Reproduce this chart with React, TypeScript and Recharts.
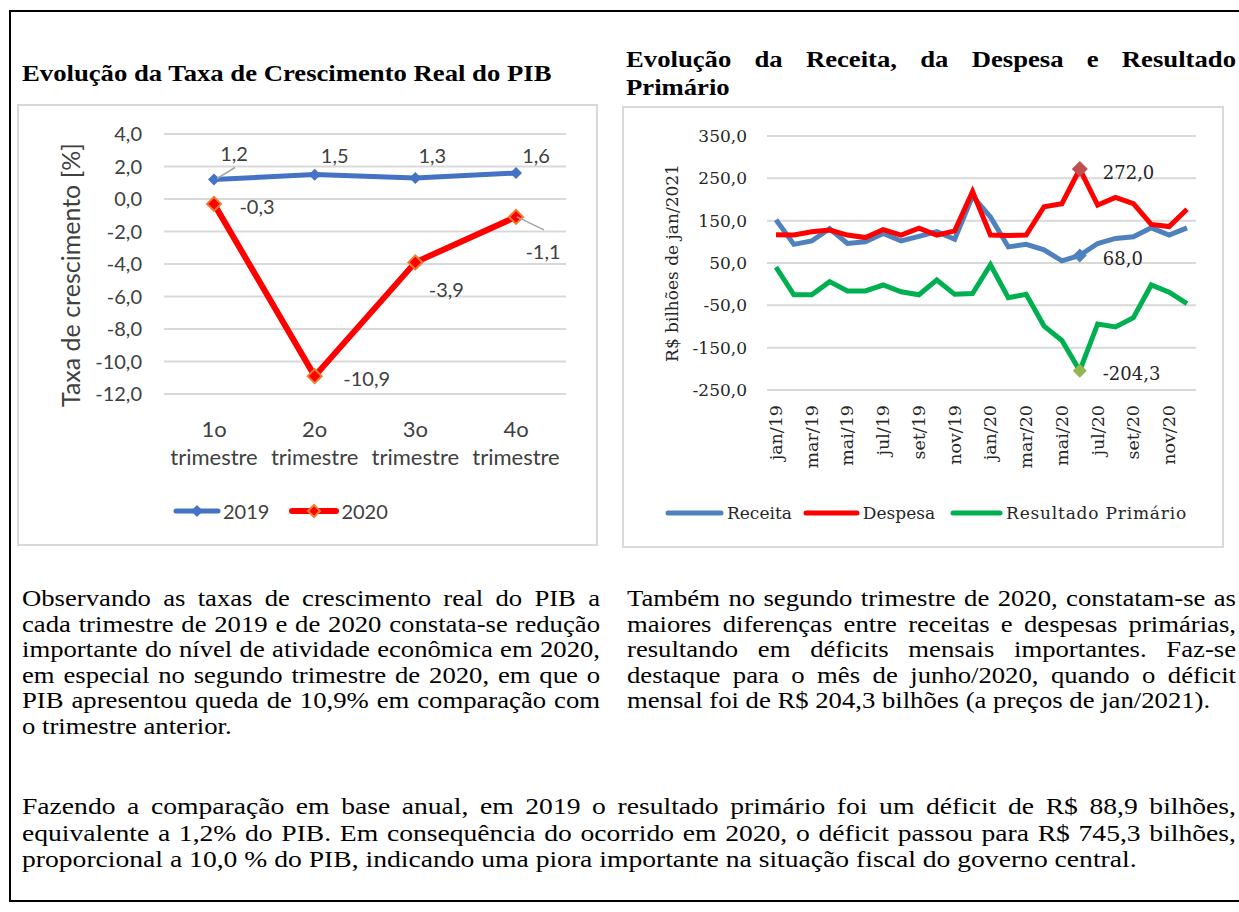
import React from 'react';
import { LineChart, Line, XAxis, YAxis, CartesianGrid, Legend, LabelList } from 'recharts';

// PIB – taxa de crescimento real por trimestre (%)
const quarters = ['1o', '2o', '3o', '4o'];
const growth2019 = [1.2, 1.5, 1.3, 1.6];
const growth2020 = [-0.3, -10.9, -3.9, -1.1];
const growthTicks = [4, 2, 0, -2, -4, -6, -8, -10, -12];

// Receita, despesa e resultado primário (R$ bilhões de jan/2021)
const months = [
  'jan/19', 'fev/19', 'mar/19', 'abr/19', 'mai/19', 'jun/19', 'jul/19', 'ago/19', 'set/19', 'out/19', 'nov/19', 'dez/19',
  'jan/20', 'fev/20', 'mar/20', 'abr/20', 'mai/20', 'jun/20', 'jul/20', 'ago/20', 'set/20', 'out/20', 'nov/20', 'dez/20',
];
const receita = [152, 94, 102, 131, 96, 100, 120, 102, 113, 124, 106, 208, 159, 88, 94, 81, 55, 68, 96, 108, 112, 133, 116, 133];
const despesa = [117, 116, 124, 128, 116, 110, 129, 116, 132, 116, 126, 219, 116, 115, 116, 183, 190, 272, 187, 205, 190, 141, 136, 177];
const resultado = [40, -25, -25, 6, -16, -16, -2, -18, -25, 10, -24, -22, 46, -32, -24, -99, -133, -204.3, -94, -101, -79, -2, -19, -46];
const fiscalTicks = [350, 250, 150, 50, -50, -150, -250];
const highlightMonth = 'jun/20';

const pibData = quarters.map((q, i) => ({ q, y2019: growth2019[i], y2020: growth2020[i] }));
const fiscalData = months.map((m, i) => ({ m, receita: receita[i], despesa: despesa[i], resultado: resultado[i] }));

const fmt = (v: number) => Number(v).toFixed(1).replace('.', ',');

const SANS = 'Lato, "Open Sans", sans-serif';
const SERIF = '"DejaVu Serif", serif';
const TEXT_SERIF = '"Liberation Serif", "Times New Roman", serif';
const GRID = '#d9d9d9';

function diamond(cx: number, cy: number, r: number, fill: string, stroke?: string) {
  return (
    <path
      d={`M${cx} ${cy - r}L${cx + r} ${cy}L${cx} ${cy + r}L${cx - r} ${cy}Z`}
      fill={fill}
      stroke={stroke || 'none'}
      strokeWidth={stroke ? 2 : 0}
    />
  );
}

// posição dos rótulos (deslocamento em px a partir do ponto)
const pibLabelPos: Record<string, { dx: number; dy: number; lead?: [number, number, number, number] }[]> = {
  y2019: [
    { dx: 20, dy: -27, lead: [3, -1, 21, -12] },
    { dx: 20, dy: -20 },
    { dx: 17, dy: -23 },
    { dx: 20, dy: -18 },
  ],
  y2020: [
    { dx: 43, dy: 2 },
    { dx: 52, dy: 2 },
    { dx: 31, dy: 27 },
    { dx: 27, dy: 34, lead: [1, 0, 28, 13] },
  ],
};

const pibLabel = (key: string) => (props: any) => {
  const { x, y, value, index } = props;
  const p = pibLabelPos[key][index];
  if (!p) return null;
  return (
    <g>
      {p.lead && (
        <line x1={x + p.lead[0]} y1={y + p.lead[1]} x2={x + p.lead[2]} y2={y + p.lead[3]} stroke="#a6a6a6" strokeWidth={1.5} />
      )}
      <text x={x + p.dx} y={y + p.dy} textAnchor="middle" dominantBaseline="central" fontFamily={SANS} fontSize={20} fill="#404040">
        {fmt(value)}
      </text>
    </g>
  );
};

const QuarterTick = (props: any) => {
  const { x, y, payload } = props;
  return (
    <g transform={`translate(${x},${y})`}>
      <text y={34} textAnchor="middle" dominantBaseline="central" fontFamily={SANS} fontSize={22} fill="#404040">
        {payload.value}
      </text>
      <text y={62} textAnchor="middle" dominantBaseline="central" fontFamily={SANS} fontSize={22} fill="#404040">
        trimestre
      </text>
    </g>
  );
};

const PibLegend = () => (
  <div style={{ display: 'flex', alignItems: 'center', height: 24, fontFamily: SANS, fontSize: 20, color: '#404040' }}>
    <svg width={48} height={20}>
      <line x1={3} y1={10} x2={45} y2={10} stroke="#4472C4" strokeWidth={5} strokeLinecap="round" />
      {diamond(24, 10, 6, '#4472C4')}
    </svg>
    <span style={{ marginLeft: 2, marginRight: 20 }}>2019</span>
    <svg width={50} height={20}>
      <line x1={3} y1={10} x2={47} y2={10} stroke="#FF0000" strokeWidth={6} strokeLinecap="round" />
      {diamond(25, 10, 6, '#FF0000', '#ED7D31')}
    </svg>
    <span style={{ marginLeft: 2 }}>2020</span>
  </div>
);

function PibChart() {
  return (
    <LineChart width={577} height={438} data={pibData} margin={{ top: 28, right: 30, bottom: 70, left: 0 }}>
      <CartesianGrid vertical={false} stroke={GRID} strokeWidth={2} />
      <XAxis
        dataKey="q"
        axisLine={false}
        tickLine={false}
        tickSize={0}
        tickMargin={0}
        height={80}
        padding={{ left: 50, right: 50 }}
        tick={<QuarterTick />}
        interval={0}
      />
      <YAxis
        type="number"
        domain={[-12, 4]}
        ticks={growthTicks}
        width={145}
        axisLine={false}
        tickLine={false}
        tickSize={0}
        tickMargin={22}
        tickFormatter={fmt}
        tick={{ fontFamily: SANS, fontSize: 20, fill: '#404040' }}
        label={{
          content: () => (
            <text
              transform="translate(51,169) rotate(-90)"
              textAnchor="middle"
              dominantBaseline="central"
              fontFamily={SANS}
              fontSize={25}
              fill="#404040"
            >
              Taxa de crescimento [%]
            </text>
          ),
        }}
      />
      <Legend
        layout="horizontal"
        verticalAlign="middle"
        align="center"
        content={() => <PibLegend />}
        wrapperStyle={{ top: 393, left: 154, width: 'auto', height: 24 }}
      />
      <Line
        type="linear"
        dataKey="y2019"
        name="2019"
        stroke="#4472C4"
        strokeWidth={5}
        isAnimationActive={false}
        activeDot={false}
        dot={(p: any) => <g key={`a${p.index}`}>{diamond(p.cx, p.cy, 6, '#4472C4')}</g>}
      >
        <LabelList dataKey="y2019" content={pibLabel('y2019')} />
      </Line>
      <Line
        type="linear"
        dataKey="y2020"
        name="2020"
        stroke="#FF0000"
        strokeWidth={6}
        isAnimationActive={false}
        activeDot={false}
        dot={(p: any) => <g key={`b${p.index}`}>{diamond(p.cx, p.cy, 7, '#FF0000', '#ED7D31')}</g>}
      >
        <LabelList dataKey="y2020" content={pibLabel('y2020')} />
      </Line>
    </LineChart>
  );
}

const MonthTick = (props: any) => {
  const { x, y, payload } = props;
  return (
    <text
      transform={`translate(${x},${y}) rotate(-90)`}
      textAnchor="end"
      dominantBaseline="central"
      fontFamily={SERIF}
      fontSize={17.5}
      fill="#262626"
    >
      {payload.value}
    </text>
  );
};

const fiscalLabel = (props: any) => {
  const { x, y, value, index } = props;
  if (months[index] !== highlightMonth) return null;
  return (
    <text x={x + 23} y={y + 3} dominantBaseline="central" fontFamily={SERIF} fontSize={18} fill="#262626">
      {fmt(value)}
    </text>
  );
};

const markerDot = (color: string, r: number) => (p: any) =>
  <g key={`${color}${p.index}`}>{p.payload.m === highlightMonth ? diamond(p.cx, p.cy, r, color) : null}</g>;

const FiscalLegend = () => {
  const item = (color: string, label: string, w: number, gap: number, spacing = 0) => (
    <>
      <svg width={w} height={20}>
        <line x1={3} y1={10} x2={w - 3} y2={10} stroke={color} strokeWidth={5} strokeLinecap="round" />
      </svg>
      <span style={{ marginLeft: 3, marginRight: gap, letterSpacing: spacing }}>{label}</span>
    </>
  );
  return (
    <div style={{ display: 'flex', alignItems: 'center', height: 24, fontFamily: SERIF, fontSize: 17, color: '#262626', whiteSpace: 'nowrap' }}>
      {item('#4F81BD', 'Receita', 59, 11)}
      {item('#FF0000', 'Despesa', 57, 15)}
      {item('#00B050', 'Resultado Primário', 53, 0, 0.8)}
    </div>
  );
};

function FiscalChart() {
  return (
    <LineChart width={598} height={438} data={fiscalData} margin={{ top: 28, right: 26, bottom: 56, left: 0 }}>
      <CartesianGrid vertical={false} stroke={GRID} strokeWidth={2} />
      <XAxis
        dataKey="m"
        axisLine={false}
        tickLine={false}
        tickSize={0}
        tickMargin={15}
        height={100}
        padding={{ left: 9, right: 9 }}
        interval={1}
        tick={<MonthTick />}
      />
      <YAxis
        type="number"
        domain={[-250, 350]}
        ticks={fiscalTicks}
        width={143}
        axisLine={false}
        tickLine={false}
        tickSize={0}
        tickMargin={20}
        tickFormatter={fmt}
        tick={{ fontFamily: SERIF, fontSize: 17, fill: '#262626' }}
        label={{
          content: () => (
            <text
              transform="translate(48,155) rotate(-90)"
              textAnchor="middle"
              dominantBaseline="central"
              fontFamily={SERIF}
              fontSize={17}
              fill="#262626"
            >
              R$ bilhões de jan/2021
            </text>
          ),
        }}
      />
      <Legend
        layout="horizontal"
        verticalAlign="middle"
        align="center"
        content={() => <FiscalLegend />}
        wrapperStyle={{ top: 393, left: 41, width: 'auto', height: 24 }}
      />
      <Line type="linear" dataKey="receita" name="Receita" stroke="#4F81BD" strokeWidth={5} isAnimationActive={false} activeDot={false} dot={markerDot('#4F81BD', 7)}>
        <LabelList dataKey="receita" content={fiscalLabel} />
      </Line>
      <Line type="linear" dataKey="despesa" name="Despesa" stroke="#FF0000" strokeWidth={5} isAnimationActive={false} activeDot={false} dot={markerDot('#C0504D', 8)}>
        <LabelList dataKey="despesa" content={fiscalLabel} />
      </Line>
      <Line type="linear" dataKey="resultado" name="Resultado Primário" stroke="#00B050" strokeWidth={5} isAnimationActive={false} activeDot={false} dot={markerDot('#92B74E', 7)}>
        <LabelList dataKey="resultado" content={fiscalLabel} />
      </Line>
    </LineChart>
  );
}

// blocos de texto, uma linha por div (justificadas)
const leftPara = [
  'Observando as taxas de crescimento real do PIB a',
  'cada trimestre de 2019 e de 2020 constata-se redução',
  'importante do nível de atividade econômica em 2020,',
  'em especial no segundo trimestre de 2020, em que o',
  'PIB apresentou queda de 10,9% em comparação com',
  'o trimestre anterior.',
];
const rightPara = [
  'Também no segundo trimestre de 2020, constatam-se as',
  'maiores diferenças entre receitas e despesas primárias,',
  'resultando em déficits mensais importantes. Faz-se',
  'destaque para o mês de junho/2020, quando o déficit',
  'mensal foi de R$ 204,3 bilhões (a preços de jan/2021).',
];
const bottomPara = [
  'Fazendo a comparação em base anual, em 2019 o resultado primário foi um déficit de R$ 88,9 bilhões,',
  'equivalente a 1,2% do PIB. Em consequência do ocorrido em 2020, o déficit passou para R$ 745,3 bilhões,',
  'proporcional a 10,0 % do PIB, indicando uma piora importante na situação fiscal do governo central.',
];
const rightTitle = ['Evolução da Receita, da Despesa e Resultado', 'Primário'];

// o texto do documento é um Times ligeiramente alargado
const STRETCH = 1.16;

function TextBlock({ left, top, width, lines, lineHeight, bold, size = 23 }: { left: number; top: number; width: number; lines: string[]; lineHeight: number; bold?: boolean; size?: number }) {
  return (
    <div
      style={{
        position: 'absolute',
        left,
        top,
        width: width / STRETCH,
        transform: `scaleX(${STRETCH})`,
        transformOrigin: 'left top',
        fontFamily: TEXT_SERIF,
        fontSize: size,
        lineHeight: `${lineHeight}px`,
        fontWeight: bold ? 700 : 400,
        color: '#000',
      }}
    >
      {lines.map((l, i) => (
        <div key={i} style={{ whiteSpace: 'nowrap', textAlign: 'justify', textAlignLast: i < lines.length - 1 ? 'justify' : 'left' }}>
          {l}
        </div>
      ))}
    </div>
  );
}

export default function App() {
  return (
    <div style={{ position: 'absolute', left: 0, top: 0, width: 1239, height: 912, background: '#fff', overflow: 'hidden' }}>
      <div style={{ position: 'absolute', left: 9, top: 10, width: 1260, height: 892, border: '2px solid #000', boxSizing: 'border-box' }} />

      <TextBlock left={22} top={60} width={580} lines={['Evolução da Taxa de Crescimento Real do PIB']} lineHeight={28} bold />
      <TextBlock left={626} top={46} width={610} lines={rightTitle} lineHeight={28} bold />

      <div style={{ position: 'absolute', left: 17, top: 104, width: 581, height: 442, border: `2px solid ${GRID}`, boxSizing: 'border-box', background: '#fff' }}>
        <PibChart />
      </div>
      <div style={{ position: 'absolute', left: 622, top: 106, width: 602, height: 442, border: `2px solid ${GRID}`, boxSizing: 'border-box', background: '#fff' }}>
        <FiscalChart />
      </div>

      <TextBlock left={22} top={586} width={578} lines={leftPara} lineHeight={25.5} />
      <TextBlock left={627} top={586} width={609} lines={rightPara} lineHeight={25.5} />
      <TextBlock left={22} top={793} width={1214} lines={bottomPara} lineHeight={26.5} size={23.8} />
    </div>
  );
}
